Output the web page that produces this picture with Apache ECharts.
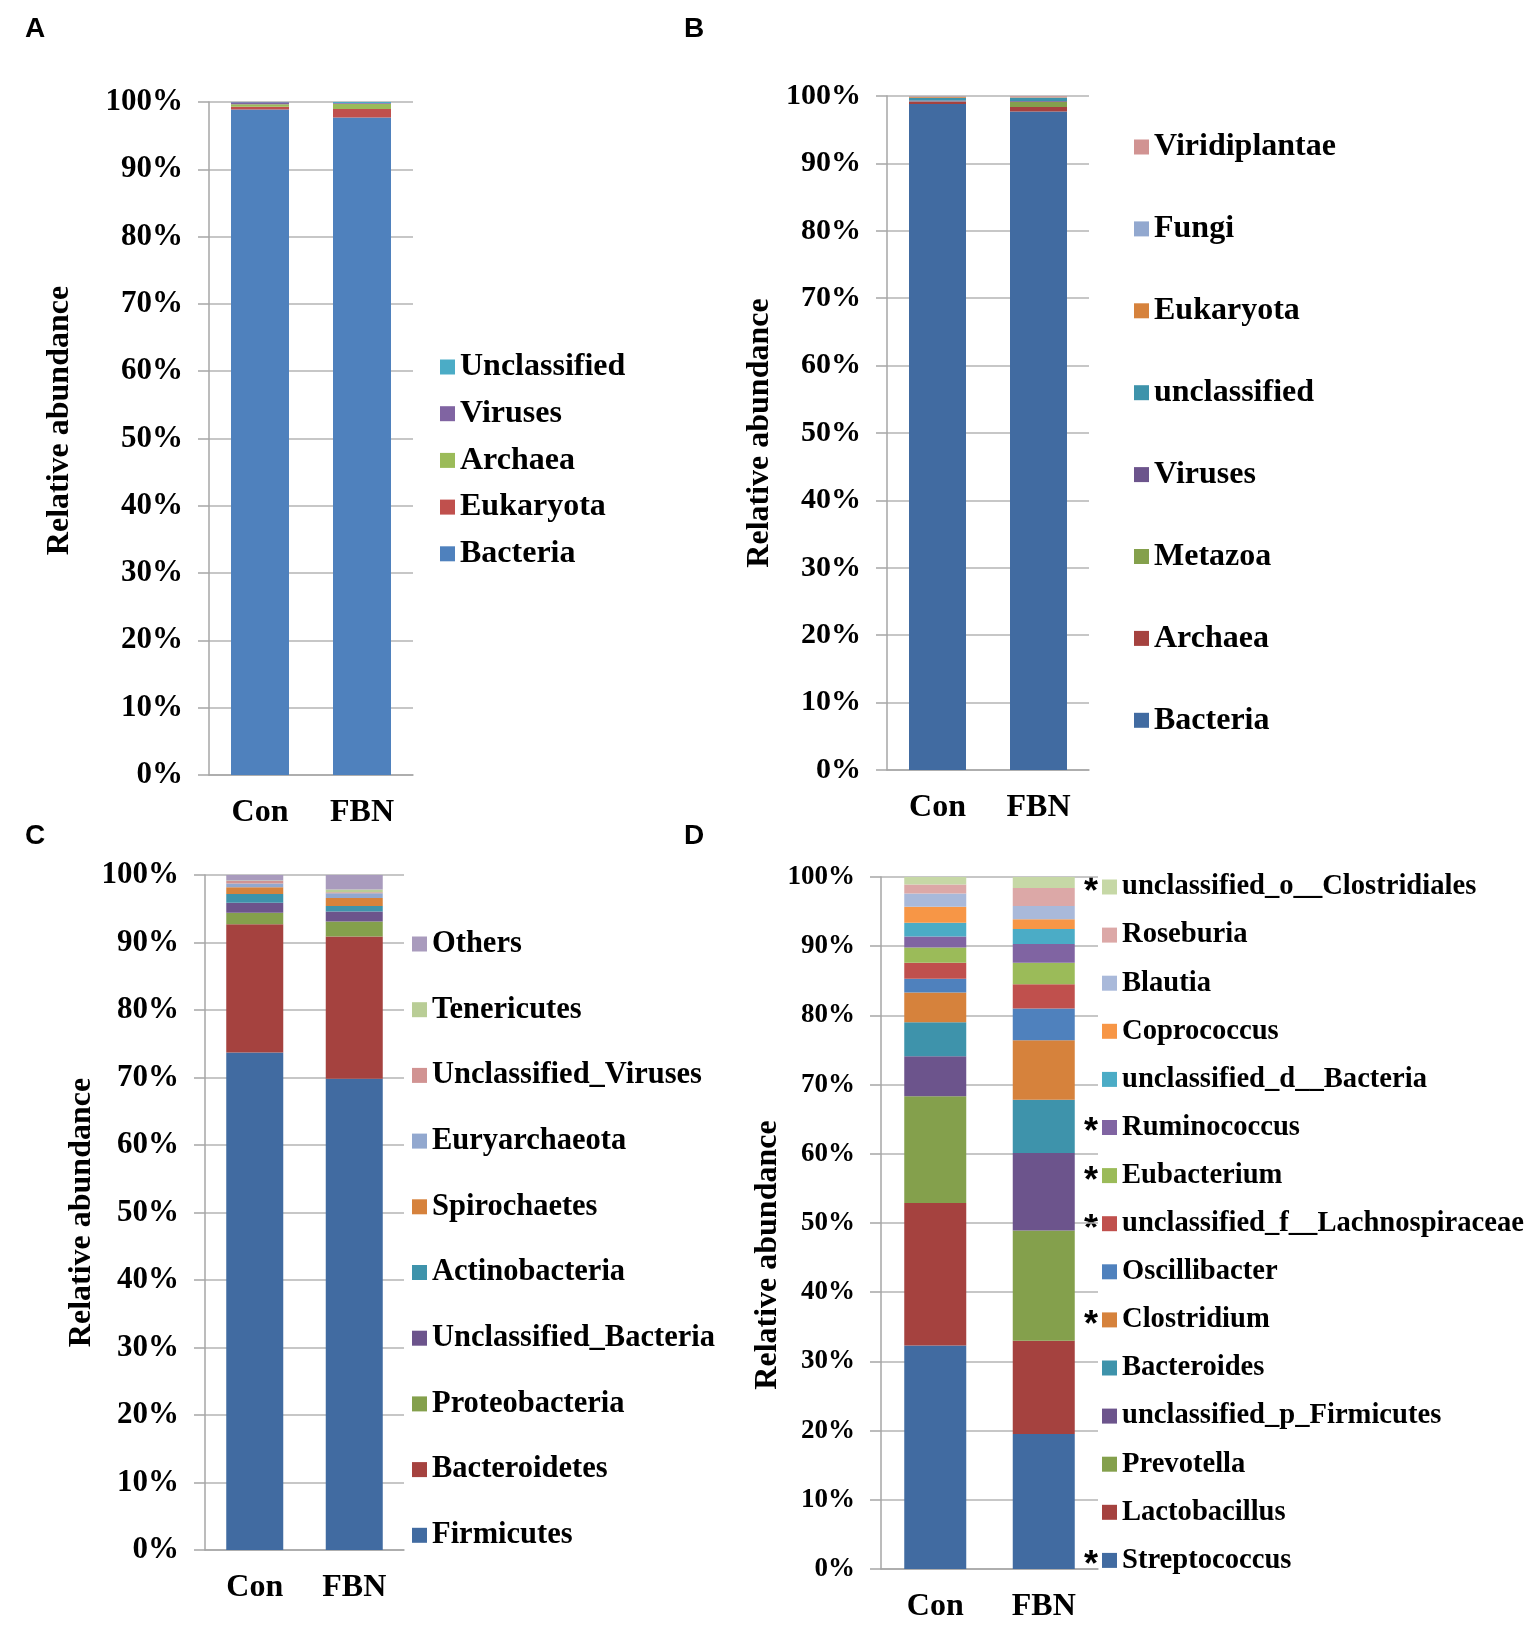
<!DOCTYPE html>
<html>
<head>
<meta charset="utf-8">
<script src="https://cdn.jsdelivr.net/npm/echarts@6/dist/echarts.min.js"></script>
<style>
  html, body { margin: 0; padding: 0; background: #fff; }
  #chart { width: 1535px; height: 1625px; }
</style>
</head>
<body>
<div id="chart"></div>
<script>
// categories
var cats = ['Con', 'FBN'];

// panel A (kingdom), stacked bottom -> top
var aNames = ['Bacteria', 'Eukaryota', 'Archaea', 'Viruses', 'Unclassified'];
var aCon = [98.9, 0.4, 0.35, 0.3, 0.05];
var aFbn = [97.7, 1.25, 0.8, 0.1, 0.15];
var aColors = ['#4f81bd', '#c0504d', '#9bbb59', '#8064a2', '#4bacc6'];

// panel B
var bNames = ['Bacteria', 'Archaea', 'Metazoa', 'Viruses', 'unclassified', 'Eukaryota', 'Fungi', 'Viridiplantae'];
var bCon = [98.8, 0.35, 0.05, 0.15, 0.4, 0.15, 0.05, 0.05];
var bFbn = [97.7, 0.65, 0.8, 0.1, 0.5, 0.05, 0.1, 0.1];
var bColors = ['#416ba1', '#a5423f', '#84a04c', '#6c548c', '#3e93ab', '#d6823c', '#92a8cf', '#d19392'];

// panel C (phylum)
var cNames = ['Firmicutes', 'Bacteroidetes', 'Proteobacteria', 'Unclassified_Bacteria', 'Actinobacteria',
              'Spirochaetes', 'Euryarchaeota', 'Unclassified_Viruses', 'Tenericutes', 'Others'];
var cCon = [73.7, 19.0, 1.7, 1.5, 1.3, 1.0, 0.55, 0.35, 0.1, 0.8];
var cFbn = [69.8, 21.1, 2.2, 1.5, 0.8, 1.2, 0.7, 0.15, 0.4, 2.15];
var cColors = ['#416ba1', '#a5423f', '#84a04c', '#6c548c', '#3e93ab', '#d6823c', '#92a8cf', '#d19392', '#b9cd96', '#a99bbd'];

// panel D (genus)
var dNames = ['Streptococcus', 'Lactobacillus', 'Prevotella', 'unclassified_p_Firmicutes', 'Bacteroides',
              'Clostridium', 'Oscillibacter', 'unclassified_f__Lachnospiraceae', 'Eubacterium', 'Ruminococcus',
              'unclassified_d__Bacteria', 'Coprococcus', 'Blautia', 'Roseburia', 'unclassified_o__Clostridiales'];
var dCon = [32.3, 20.6, 15.4, 5.8, 4.9, 4.3, 2.0, 2.3, 2.2, 1.6, 2.0, 2.3, 1.9, 1.3, 1.1];
var dFbn = [19.5, 13.5, 15.9, 11.2, 7.7, 8.6, 4.6, 3.5, 3.1, 2.7, 2.2, 1.4, 1.9, 2.6, 1.6];
var dColors = ['#416ba1', '#a5423f', '#84a04c', '#6c548c', '#3e93ab', '#d6823c', '#4f81bd', '#c0504d',
               '#9bbb59', '#8064a2', '#4bacc6', '#f79646', '#a9b9da', '#dca8a7', '#c6d8a6'];
var dStarred = ['unclassified_o__Clostridiales', 'Ruminococcus', 'Eubacterium',
                'unclassified_f__Lachnospiraceae', 'Clostridium', 'Streptococcus'];

var serif = '"Liberation Serif", "Times New Roman", serif';
var series = [];
var legends = [];

function addPanel(idx, key, names, con, fbn, colors, barW) {
    names.forEach(function (n, i) {
        series.push({
            name: key + '|' + n,
            type: 'bar',
            stack: key,
            xAxisIndex: idx,
            yAxisIndex: idx,
            barWidth: barW,
            data: [con[i], fbn[i]],
            itemStyle: { color: colors[i] },
            emphasis: { disabled: true }
        });
    });
}

function addLegend(key, names, left, top, fs, lh, gap) {
    legends.push({
        orient: 'vertical',
        left: left,
        top: top,
        padding: 0,
        itemWidth: 15,
        itemHeight: 15,
        itemGap: gap,
        icon: 'rect',
        selectedMode: false,
        data: names.slice().reverse().map(function (n) { return key + '|' + n; }),
        formatter: function (n) { return n.split('|')[1]; },
        textStyle: { fontFamily: serif, fontWeight: 'bold', fontSize: fs, lineHeight: lh, color: '#000' }
    });
}

addPanel(0, 'A', aNames, aCon, aFbn, aColors, 58);
addPanel(1, 'B', bNames, bCon, bFbn, bColors, 57);
addPanel(2, 'C', cNames, cCon, cFbn, cColors, 57);
addPanel(3, 'D', dNames, dCon, dFbn, dColors, 62);

addLegend('A', aNames, 440, 350, 32, 34, 12.7);
addLegend('B', bNames, 1134, 130, 32, 34, 47.9);
addLegend('C', cNames, 412, 927, 30.5, 34, 31.7);
addLegend('D', dNames, 1102, 871, 28.6, 32, 16.1);

var grids = [
    { left: 209, top: 102, width: 204, height: 673 },
    { left: 887, top: 96, width: 202, height: 674 },
    { left: 205, top: 875, width: 199, height: 675 },
    { left: 881, top: 877, width: 217, height: 692 }
];
var tickSize = [31, 30, 31, 27];
var nameGap = [133, 111, 106, 96];
var namePad = [[0, 0, 0, 36], [0, 0, 0, 0], [0, 0, 0, 0], [0, 64, 0, 0]];

var xAxes = [], yAxes = [];
grids.forEach(function (g, i) {
    xAxes.push({
        type: 'category',
        gridIndex: i,
        data: cats,
        axisLine: { lineStyle: { color: '#a6a6a6', width: 1.5 } },
        axisTick: { show: false },
        axisLabel: { margin: 22, fontFamily: serif, fontWeight: 'bold', fontSize: 32, color: '#000' }
    });
    yAxes.push({
        type: 'value',
        gridIndex: i,
        min: 0,
        max: 100,
        interval: 10,
        name: 'Relative abundance',
        nameLocation: 'middle',
        nameGap: nameGap[i],
        nameTextStyle: { fontFamily: serif, fontWeight: 'bold', fontSize: 32, color: '#000', padding: namePad[i] },
        axisLine: { show: true, lineStyle: { color: '#a6a6a6', width: 1.5 } },
        axisTick: { show: true, length: 11, lineStyle: { color: '#a6a6a6', width: 1.5 } },
        splitLine: { lineStyle: { color: '#b4b4b4', width: 1.5 } },
        axisLabel: { margin: 26, formatter: '{value}%', fontFamily: serif, fontWeight: 'bold', fontSize: tickSize[i], color: '#000' }
    });
});

// panel letters and significance stars
var graphics = [];
[['A', 25, 29], ['B', 684, 29], ['C', 25, 836], ['D', 684, 836]].forEach(function (p) {
    graphics.push({
        type: 'text', x: p[1], y: p[2],
        style: { text: p[0], fill: '#000', font: 'bold 28px "Liberation Sans", Arial, sans-serif', verticalAlign: 'middle' }
    });
});
var dReversed = dNames.slice().reverse();
dReversed.forEach(function (n, i) {
    if (dStarred.indexOf(n) < 0) return;
    graphics.push({
        type: 'text', x: 1091, y: 887 + i * 48.1 + 6,
        style: { text: '*', fill: '#000', font: 'bold 36px "Liberation Sans", Arial, sans-serif', align: 'center', verticalAlign: 'middle' }
    });
});

var myChart = echarts.init(document.getElementById('chart'));
var option = {
    animation: false,
    backgroundColor: '#fff',
    grid: grids,
    xAxis: xAxes,
    yAxis: yAxes,
    legend: legends,
    series: series,
    graphic: graphics
};
myChart.setOption(option);
</script>
</body>
</html>
